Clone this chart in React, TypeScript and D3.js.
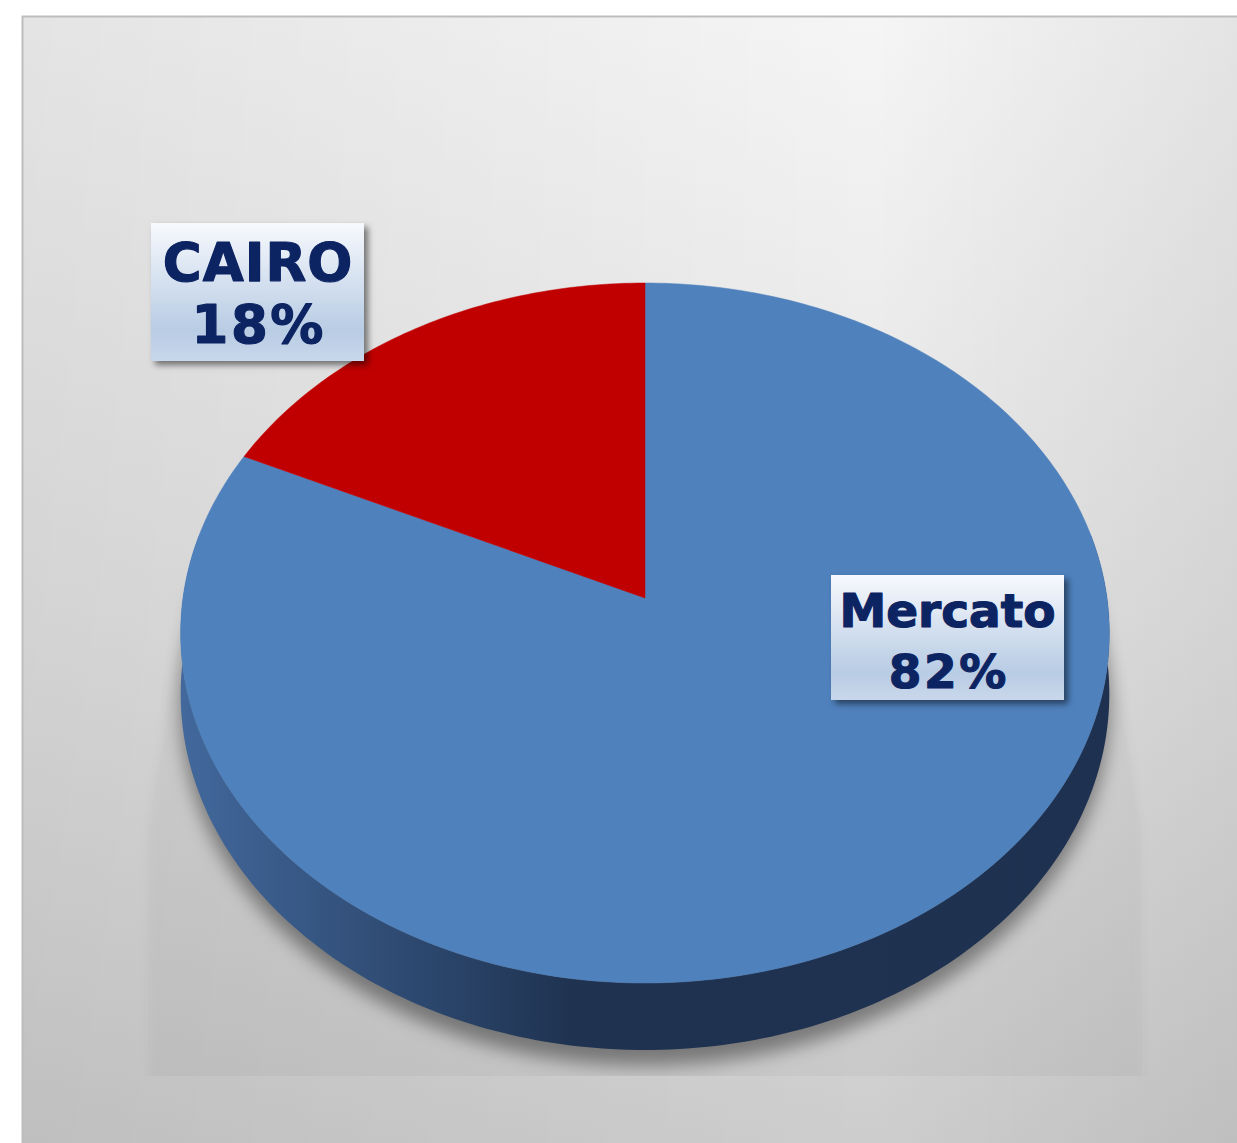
import React, { useEffect, useRef } from "react";
import * as d3 from "d3";

// data
const categories = ["Mercato", "CAIRO"];
const values = [82, 18];
const percentLabels = ["82%", "18%"];
const topColors = ["#4f81bd", "#c00000"];
const sideStops = [
  ["#42689c", "#1f3351", "#1e3150"],
  ["#8a0000", "#5a0000", "#500000"],
];

const W = 1237;
const H = 1143;
// perspective pie geometry
const cx = 645, cy = 598, A = 462, B = 346.5, K = 0.1, DEPTH = 60.3;

// label boxes (layout)
const labelBoxes = [
  { x: 831, y: 575, w: 233, h: 125, size: 47, base: [627, 688], ls: [0, 2.5] },
  { x: 151, y: 223, w: 213, h: 138, size: 53, base: [281, 343], ls: [1, 2.5] },
];

export default function App() {
  const ref = useRef<SVGSVGElement>(null);

  useEffect(() => {
    const svg = d3.select(ref.current);
    svg.selectAll("*").remove();
    const defs = svg.append("defs");

    const sx = d3.scaleLinear().domain([-1, 1]).range([cx - A, cx + A]);
    const sy = d3.scaleLinear().domain([-1, 1]).range([cy + B, cy - B]);
    const proj = (a: number, z = 0): [number, number] => {
      const u = Math.sin(a), v = Math.cos(a), w = 1 + K * v;
      return [sx(u / w), sy(v / w) + z / w];
    };
    const arcPts = (a0: number, a1: number, z = 0) => {
      const n = Math.max(2, Math.ceil(Math.abs(a1 - a0) * 60));
      return d3.range(n + 1).map((i) => proj(a0 + ((a1 - a0) * i) / n, z));
    };
    const line = d3.line();

    // background gradients
    const vg = defs.append("linearGradient").attr("id", "bgV")
      .attr("x1", 0).attr("y1", 0).attr("x2", 0).attr("y2", 1);
    vg.append("stop").attr("offset", 0).attr("stop-color", "#f5f5f5");
    vg.append("stop").attr("offset", 0.5).attr("stop-color", "#e3e3e3");
    vg.append("stop").attr("offset", 1).attr("stop-color", "#cacaca");
    const hg = defs.append("linearGradient").attr("id", "bgH")
      .attr("x1", 0).attr("y1", 0).attr("x2", 1).attr("y2", 0);
    hg.append("stop").attr("offset", 0).attr("stop-color", "#000").attr("stop-opacity", 0.07);
    hg.append("stop").attr("offset", 0.7).attr("stop-color", "#000").attr("stop-opacity", 0);
    hg.append("stop").attr("offset", 1).attr("stop-color", "#000").attr("stop-opacity", 0.07);

    svg.append("rect").attr("x", 22.5).attr("y", 16.5).attr("width", 1300).attr("height", 1200)
      .attr("fill", "url(#bgV)");
    svg.append("rect").attr("x", 22.5).attr("y", 16.5).attr("width", 1215).attr("height", 1200)
      .attr("fill", "url(#bgH)");
    svg.append("rect").attr("x", 22.5).attr("y", 16.5).attr("width", 1300).attr("height", 1200)
      .attr("fill", "none").attr("stroke", "#bdbdbd").attr("stroke-width", 2);

    // shadow under the pie
    defs.append("filter").attr("id", "blurS").attr("x", -0.2).attr("y", -0.2).attr("width", 1.4).attr("height", 1.4)
      .append("feGaussianBlur").attr("stdDeviation", 4);
    defs.append("filter").attr("id", "blurL").attr("x", -0.2).attr("y", -0.2).attr("width", 1.4).attr("height", 1.4)
      .append("feGaussianBlur").attr("stdDeviation", 9);
    defs.append("clipPath").attr("id", "shClip").append("rect")
      .attr("x", 140).attr("y", 560).attr("width", 1010).attr("height", 516);

    const shadowG = svg.append("g").attr("clip-path", "url(#shClip)");
    shadowG.append("path")
      .attr("d", line([[183, 590], [1107, 590], [1142, 830], [1142, 1090], [148, 1090], [148, 830]]) + "Z")
      .attr("fill", "#000").attr("fill-opacity", 0.035).attr("filter", "url(#blurS)");
    shadowG.append("path")
      .attr("d", line(arcPts(0, Math.PI * 2, DEPTH + 14)) + "Z")
      .attr("fill", "#000").attr("fill-opacity", 0.4).attr("filter", "url(#blurL)");

    const pie = d3.pie<number>().sort(null).startAngle(0).endAngle(Math.PI * 2);
    const arcs = pie(values);

    // side walls (front half only)
    const frontA = Math.PI * 0.44, frontB = Math.PI * 1.56;
    arcs.forEach((d, i) => {
      const g = defs.append("linearGradient").attr("id", "side" + i)
        .attr("gradientUnits", "userSpaceOnUse")
        .attr("x1", cx - A).attr("y1", 0).attr("x2", cx + A).attr("y2", 0);
      g.append("stop").attr("offset", 0).attr("stop-color", sideStops[i][0]);
      g.append("stop").attr("offset", 0.42).attr("stop-color", sideStops[i][1]);
      g.append("stop").attr("offset", 1).attr("stop-color", sideStops[i][2]);
      const a0 = Math.max(d.startAngle, frontA);
      const a1 = Math.min(d.endAngle, frontB);
      if (a1 <= a0) return;
      const pts = arcPts(a0, a1, 0).concat(arcPts(a1, a0, DEPTH));
      svg.append("path").attr("d", line(pts) + "Z").attr("fill", "url(#side" + i + ")");
    });

    // top faces
    arcs.forEach((d, i) => {
      const pts: [number, number][] = [[cx, cy], ...arcPts(d.startAngle, d.endAngle, 0)];
      svg.append("path").attr("d", line(pts) + "Z").attr("fill", topColors[i])
        .attr("stroke", topColors[i]).attr("stroke-width", 0.5);
    });

    // data labels
    const lg = defs.append("linearGradient").attr("id", "lblFill")
      .attr("x1", 0).attr("y1", 0).attr("x2", 0).attr("y2", 1);
    lg.append("stop").attr("offset", 0).attr("stop-color", "#f7f9fd");
    lg.append("stop").attr("offset", 0.78).attr("stop-color", "#b8cce4");
    lg.append("stop").attr("offset", 1).attr("stop-color", "#c9d7eb");
    defs.append("filter").attr("id", "lblShadow").attr("x", -0.2).attr("y", -0.2).attr("width", 1.4).attr("height", 1.4)
      .append("feDropShadow").attr("dx", 4).attr("dy", 4).attr("stdDeviation", 3)
      .attr("flood-color", "#000").attr("flood-opacity", 0.5);

    labelBoxes.forEach((b, i) => {
      const g = svg.append("g");
      g.append("rect").attr("x", b.x).attr("y", b.y).attr("width", b.w).attr("height", b.h)
        .attr("fill", "url(#lblFill)").attr("filter", "url(#lblShadow)");
      [categories[i], percentLabels[i]].forEach((t, j) => {
        g.append("text").attr("x", b.x + b.w / 2 + b.ls[j] / 2).attr("y", b.base[j])
          .attr("text-anchor", "middle")
          .attr("font-family", "DejaVu Sans, Verdana, sans-serif")
          .attr("font-weight", "bold").attr("font-size", b.size)
          .attr("letter-spacing", b.ls[j])
          .attr("fill", "#0d2463").attr("stroke", "#0d2463").attr("stroke-width", 1.2)
          .attr("stroke-linejoin", "round").text(t);
      });
    });
  }, []);

  return <svg ref={ref} width={W} height={H} style={{ position: "absolute", left: 0, top: 0 }} />;
}
